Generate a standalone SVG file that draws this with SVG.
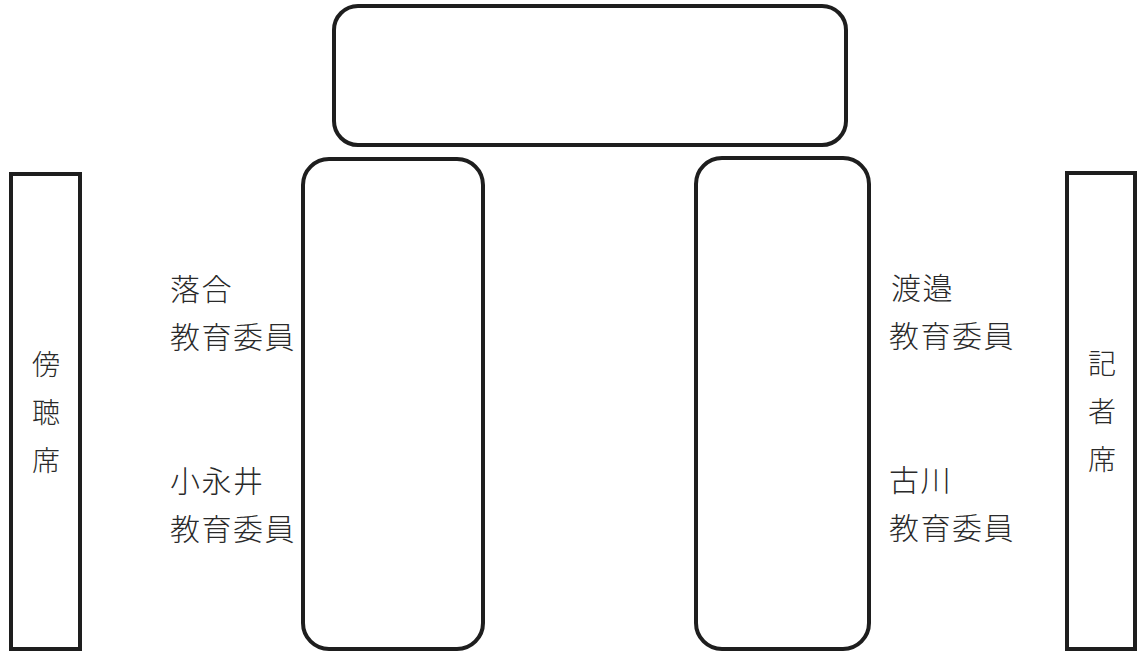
<svg xmlns="http://www.w3.org/2000/svg" width="1138" height="654" viewBox="0 0 1138 654">
<style>
.box{fill:#fff;stroke:#1e1e1e;stroke-width:4}
.t{font-family:"Noto Sans CJK JP","Noto Sans CJK SC",sans-serif;font-size:30px;font-weight:300;fill:#2a2a2a;letter-spacing:1.5px}
.v{font-family:"Noto Sans CJK JP","Noto Sans CJK SC",sans-serif;font-size:28px;font-weight:300;fill:#2a2a2a;text-anchor:middle}
</style>
<rect width="1138" height="654" fill="#fff"/>
<g id="top-table"><rect class="box" x="334" y="6" width="512" height="139" rx="24"/></g>
<g id="left-table"><rect class="box" x="303" y="159" width="180" height="490" rx="26"/></g>
<g id="right-table"><rect class="box" x="696" y="158" width="173" height="491" rx="26"/></g>
<g id="gallery"><rect class="box" x="11" y="174" width="69" height="475"/>
<text class="v" x="46" y="375">傍</text><text class="v" x="46" y="423">聴</text><text class="v" x="46" y="471">席</text></g>
<g id="press"><rect class="box" x="1067" y="173" width="68" height="476"/>
<text class="v" x="1102" y="374">記</text><text class="v" x="1102" y="422">者</text><text class="v" x="1102" y="470">席</text></g>
<g id="ochiai"><text class="t" x="170" y="300">落合</text><text class="t" x="170" y="348">教育委員</text></g>
<g id="konagai"><text class="t" x="170" y="492">小永井</text><text class="t" x="170" y="540">教育委員</text></g>
<g id="watanabe"><text class="t" x="891" y="299">渡邉</text><text class="t" x="889" y="347">教育委員</text></g>
<g id="furukawa"><text class="t" x="889" y="491">古川</text><text class="t" x="889" y="539">教育委員</text></g>
<g id="connectors"></g>
</svg>
